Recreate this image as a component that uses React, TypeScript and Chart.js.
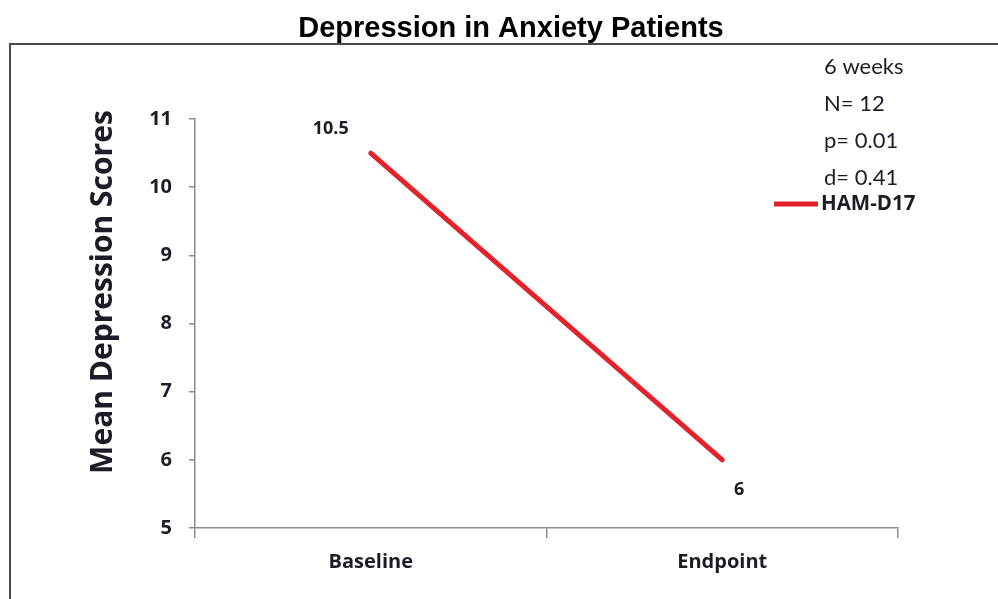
import React, { useEffect, useRef } from 'react';
import { Chart, registerables } from 'chart.js';

Chart.register(...registerables);

const categories = ['Baseline', 'Endpoint'];
const hamD17 = [10.5, 6];
const pointLabels = ['10.5', '6'];
const yMin = 5;
const yMax = 11;
const notes = ['6 weeks', 'N= 12', 'p= 0.01', 'd= 0.41'];
const seriesName = 'HAM-D17';
const chartTitle = 'Depression in Anxiety Patients';
const yTitle = 'Mean Depression Scores';

const RED = '#e3222b';
const AXIS = '#8c8c8c';
const TEXT = '#1c1c26';
const CAL = 'Lato, "Open Sans", sans-serif';
const BOLD = '"Open Sans", Lato, sans-serif';

const overlay = {
  id: 'overlay',
  beforeDraw(chart: any) {
    const ctx = chart.ctx;
    ctx.save();
    ctx.fillStyle = '#ffffff';
    ctx.fillRect(0, 0, chart.width, chart.height);
    ctx.strokeStyle = '#4a4a4a';
    ctx.lineWidth = 2;
    ctx.strokeRect(10, 44, 1000, 600);
    ctx.restore();
  },
  afterDraw(chart: any) {
    const ctx = chart.ctx;
    ctx.save();
    // title
    ctx.fillStyle = '#000';
    ctx.font = 'bold 29px "Liberation Sans", Arial, sans-serif';
    ctx.textAlign = 'center';
    ctx.textBaseline = 'alphabetic';
    ctx.fillText(chartTitle, 511, 37);

    // y title
    ctx.save();
    ctx.translate(112, 292);
    ctx.rotate(-Math.PI / 2);
    ctx.font = `bold 30px ${BOLD}`;
    ctx.fillStyle = TEXT;
    ctx.textAlign = 'center';
    ctx.textBaseline = 'alphabetic';
    ctx.fillText(yTitle, 0, 0);
    ctx.restore();

    // notes
    ctx.font = `22px ${CAL}`;
    ctx.fillStyle = TEXT;
    ctx.textAlign = 'left';
    ctx.textBaseline = 'middle';
    notes.forEach((t, i) => ctx.fillText(t, 824, 67 + i * 37));

    // legend
    ctx.strokeStyle = RED;
    ctx.lineWidth = 5;
    ctx.beginPath();
    ctx.moveTo(774, 204);
    ctx.lineTo(818, 204);
    ctx.stroke();
    ctx.font = `bold 20.5px ${BOLD}`;
    ctx.fillStyle = TEXT;
    ctx.fillText(seriesName, 821, 204);

    // data labels
    const meta = chart.getDatasetMeta(0);
    ctx.font = `bold 18px ${BOLD}`;
    ctx.textAlign = 'center';
    ctx.textBaseline = 'middle';
    const offs = [[-40, -24], [17, 30]];
    meta.data.forEach((pt: any, i: number) => {
      ctx.fillText(pointLabels[i], pt.x + offs[i][0], pt.y + offs[i][1]);
    });
    ctx.restore();
  },
};

export default function App() {
  const ref = useRef<HTMLCanvasElement>(null);
  useEffect(() => {
    if (!ref.current) return;
    const chart = new Chart(ref.current, {
      type: 'line',
      data: {
        labels: categories,
        datasets: [
          {
            label: seriesName,
            data: hamD17,
            borderColor: RED,
            backgroundColor: RED,
            borderWidth: 5,
            borderCapStyle: 'round',
            pointRadius: 0,
            tension: 0,
          },
        ],
      },
      options: {
        animation: false,
        responsive: false,
        devicePixelRatio: 1,
        layout: { padding: { left: 0, top: 119, right: 100, bottom: 0 } },
        plugins: {
          legend: { display: false },
          title: { display: false },
          tooltip: { enabled: false },
        },
        scales: {
          x: {
            type: 'category',
            offset: true,
            grid: {
              offset: true,
              drawOnChartArea: false,
              drawTicks: true,
              tickLength: 10,
              color: AXIS,
              lineWidth: 1.5,
            },
            border: { color: AXIS, width: 1.5 },
            ticks: {
              padding: 12,
              color: TEXT,
              font: { family: BOLD, size: 20, weight: 'bold' },
            },
            afterFit: (s: any) => {
              s.height = 71;
            },
          },
          y: {
            min: yMin,
            max: yMax,
            grid: {
              drawOnChartArea: false,
              drawTicks: true,
              tickLength: 6,
              color: AXIS,
              lineWidth: 1.5,
            },
            border: { color: AXIS, width: 1.5 },
            ticks: {
              stepSize: 1,
              padding: 17,
              color: TEXT,
              font: { family: BOLD, size: 20, weight: 'bold' },
            },
            afterFit: (s: any) => {
              s.width = 195;
            },
          },
        },
      } as any,
      plugins: [overlay],
    });
    return () => chart.destroy();
  }, []);
  return (
    <div style={{ position: 'fixed', left: 0, top: 0, width: 998, height: 599 }}>
      <canvas ref={ref} width={998} height={599} />
    </div>
  );
}
